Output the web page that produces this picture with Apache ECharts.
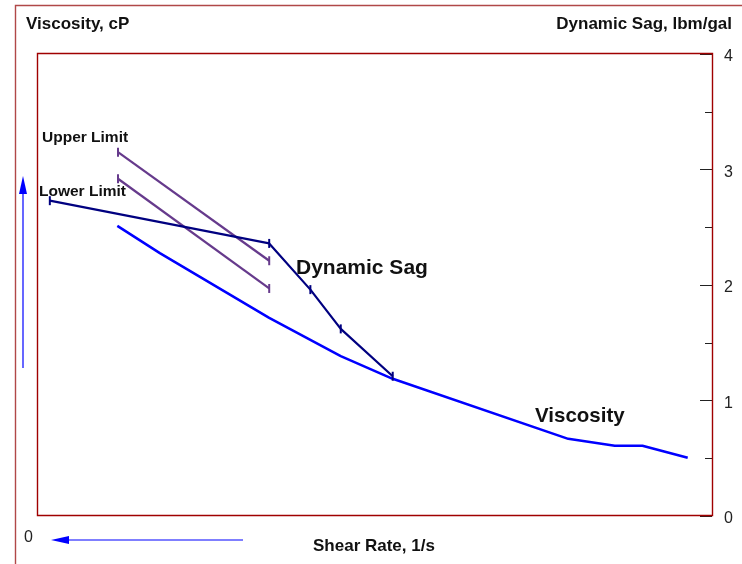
<!DOCTYPE html>
<html>
<head>
<meta charset="utf-8">
<script src="https://cdn.jsdelivr.net/npm/echarts@6/dist/echarts.min.js"></script>
<style>
  html, body { margin: 0; padding: 0; background: #ffffff; }
  #chart { width: 742px; height: 564px; }
</style>
</head>
<body>
<div id="chart"></div>
<script>
// Shear rate positions (relative scale 0-1000)
const sagShear = [19, 344, 405, 450, 527];
const sagValues = [2.73, 2.36, 1.96, 1.62, 1.21];          // lbm/gal

const limitShear = [120, 344];
const upperLimit = [3.15, 2.21];                            // lbm/gal
const lowerLimit = [2.92, 1.97];                            // lbm/gal

const viscShear = [119, 182, 344, 450, 527, 787, 856, 897, 964];
const viscValues = [62.8, 56.9, 42.9, 34.6, 29.7, 16.7, 15.2, 15.2, 12.6]; // cP

const sagTicks = [0, 1, 2, 3, 4];

const FONT = '"Liberation Sans", Arial, sans-serif';

function pairs(xs, ys) { return xs.map((x, i) => [x, ys[i]]); }

const chart = echarts.init(document.getElementById('chart'), null, { renderer: 'canvas' });

chart.setOption({
  animation: false,
  backgroundColor: '#ffffff',
  grid: {
    left: 37, right: 30, top: 54, bottom: 48,
    show: false
  },
  xAxis: {
    type: 'value', min: 0, max: 1000,
    axisLine: { show: false }, axisTick: { show: false },
    axisLabel: { show: false }, splitLine: { show: false }
  },
  yAxis: [
    {
      // hidden viscosity scale
      type: 'value', position: 'left', min: 0, max: 100,
      axisLine: { show: false }, axisTick: { show: false },
      minorTick: { show: false }, axisLabel: { show: false },
      splitLine: { show: false }
    },
    {
      // dynamic sag scale on the right
      type: 'value', position: 'right', min: sagTicks[0], max: sagTicks[sagTicks.length - 1], interval: 1,
      axisLine: { show: false },
      axisTick: { show: true, inside: true, length: 12, lineStyle: { color: '#222222' } },
      minorTick: { show: true, splitNumber: 2, length: 7, lineStyle: { color: '#222222' } },
      axisLabel: { show: true, inside: false, margin: 12, fontSize: 16, color: '#222222',
                   fontFamily: FONT, verticalAlign: 'top', lineHeight: 6 },
      splitLine: { show: false }
    }
  ],
  graphic: [
    // outer frame
    { type: 'rect', silent: true, shape: { x: 15.5, y: 5.5, width: 740, height: 580 },
      style: { fill: 'none', stroke: '#b04848', lineWidth: 1.4 } },
    // plot frame
    { type: 'rect', silent: true, z: 10, shape: { x: 37.5, y: 53.5, width: 675, height: 462 },
      style: { fill: 'none', stroke: '#a00000', lineWidth: 1.4 } },
    { type: 'text', left: 26, top: 16,
      style: { text: 'Viscosity, cP', font: 'bold 17px ' + FONT, fill: '#111111' } },
    { type: 'text', right: 10, top: 16,
      style: { text: 'Dynamic Sag, lbm/gal', font: 'bold 17px ' + FONT, fill: '#111111' } },
    { type: 'text', left: 313, top: 538,
      style: { text: 'Shear Rate, 1/s', font: 'bold 17px ' + FONT, fill: '#111111' } },
    { type: 'text', left: 24, top: 530,
      style: { text: '0', font: '16px ' + FONT, fill: '#222222' } },
    // axis direction arrows
    { type: 'line', silent: true, shape: { x1: 23, y1: 192, x2: 23, y2: 368 },
      style: { stroke: '#0000ff', lineWidth: 1.2 } },
    { type: 'polygon', silent: true, shape: { points: [[23, 176], [19, 194], [27, 194]] },
      style: { fill: '#0000ff' } },
    { type: 'line', silent: true, shape: { x1: 66, y1: 540, x2: 243, y2: 540 },
      style: { stroke: '#0000ff', lineWidth: 1.2 } },
    { type: 'polygon', silent: true, shape: { points: [[51, 540], [69, 536], [69, 544]] },
      style: { fill: '#0000ff' } },
    // series captions
    { type: 'text', left: 42, top: 130,
      style: { text: 'Upper Limit', font: 'bold 15.5px ' + FONT, fill: '#111111' } },
    { type: 'text', left: 39, top: 184,
      style: { text: 'Lower Limit', font: 'bold 15.5px ' + FONT, fill: '#111111' } },
    { type: 'text', left: 296, top: 258,
      style: { text: 'Dynamic Sag', font: 'bold 21px ' + FONT, fill: '#111111' } },
    { type: 'text', left: 535, top: 406,
      style: { text: 'Viscosity', font: 'bold 20.5px ' + FONT, fill: '#111111' } }
  ],
  series: [
    {
      name: 'Viscosity', type: 'line', yAxisIndex: 0,
      data: pairs(viscShear, viscValues),
      showSymbol: false, symbol: 'none',
      lineStyle: { color: '#0000ff', width: 2.5 }
    },
    {
      name: 'Upper Limit', type: 'line', yAxisIndex: 1,
      data: pairs(limitShear, upperLimit),
      symbol: 'rect', symbolSize: [2, 9],
      itemStyle: { color: '#663a8c' },
      lineStyle: { color: '#663a8c', width: 2.2 }
    },
    {
      name: 'Lower Limit', type: 'line', yAxisIndex: 1,
      data: pairs(limitShear, lowerLimit),
      symbol: 'rect', symbolSize: [2, 9],
      itemStyle: { color: '#663a8c' },
      lineStyle: { color: '#663a8c', width: 2.2 }
    },
    {
      name: 'Dynamic Sag', type: 'line', yAxisIndex: 1,
      data: pairs(sagShear, sagValues),
      symbol: 'rect', symbolSize: [2, 9],
      itemStyle: { color: '#000080' },
      lineStyle: { color: '#000080', width: 2.2 }
    }
  ]
});
</script>
</body>
</html>
